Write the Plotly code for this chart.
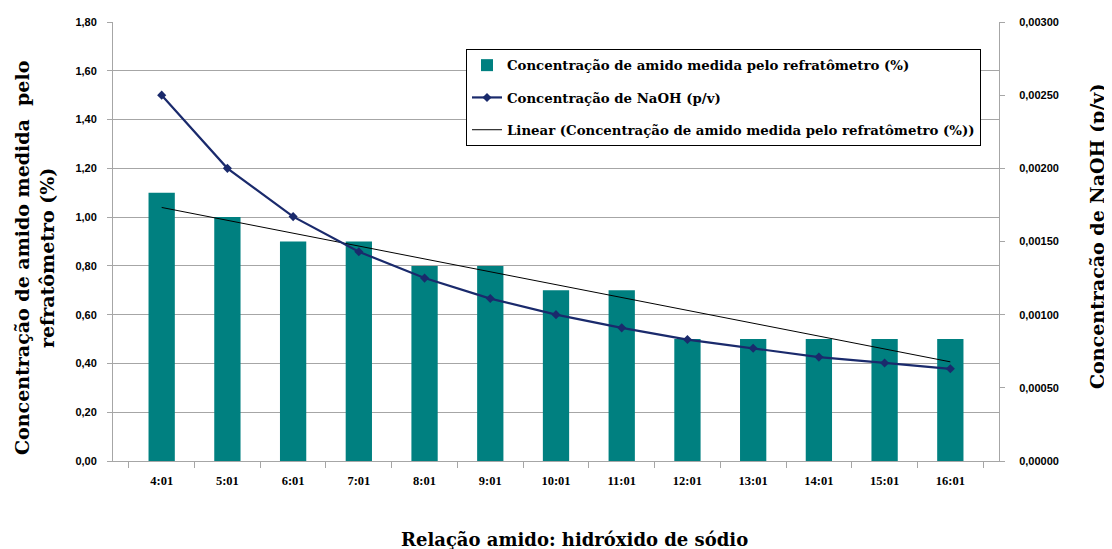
import numpy as np
import plotly.graph_objects as go

categories = ["4:01", "5:01", "6:01", "7:01", "8:01", "9:01", "10:01",
              "11:01", "12:01", "13:01", "14:01", "15:01", "16:01"]
amido = [1.10, 1.00, 0.90, 0.90, 0.80, 0.80, 0.70, 0.70, 0.50, 0.50, 0.50, 0.50, 0.50]
naoh = [0.00250, 0.00200, 0.00167, 0.00143, 0.00125, 0.00111, 0.00100,
        0.00091, 0.00083, 0.00077, 0.00071, 0.00067, 0.00063]

# Excel-style linear trendline of the bar series
xi = np.arange(1, len(amido) + 1)
slope, intercept = np.polyfit(xi, amido, 1)
trend = list(slope * xi + intercept)

SERIF = "Liberation Serif"
SANS = "Liberation Sans"
TITLE = "DejaVu Serif"
axis_gray = "#a6a6a6"

OFF = 8  # default page body margin
W, H = 1112 - OFF, 549 - OFF
L, T = 113 - OFF, 22 - OFF
R = 1112 - 999
B = 549 - 461
PW, PH = W - L - R, H - T - B

def px_x(x):
    return (x - OFF - L) / PW

def px_y(y):
    return (H - B - (y - OFF)) / PH

fig = go.Figure()
fig.add_trace(go.Bar(
    x=categories, y=amido, name="<b>Concentração de amido medida pelo refratômetro (%)</b>",
    legendgroup="a", marker=dict(color="#008080", line=dict(width=0)), yaxis="y"))
fig.add_trace(go.Scatter(
    x=categories, y=naoh, name="<b>Concentração de NaOH (p/v)</b>", mode="lines+markers",
    legendgroup="b", line=dict(color="#1a2a6c", width=2.2),
    marker=dict(symbol="diamond", size=7, color="#1a2a6c"), yaxis="y2"))
fig.add_trace(go.Scatter(
    x=categories, y=trend, name="<b>Linear (Concentração de amido medida pelo refratômetro (%))</b>",
    legendgroup="c", mode="lines", line=dict(color="#000000", width=1), yaxis="y"))

xtickfont = dict(family=SERIF, size=12.5, color="#000000", weight="bold")
ytickfont = dict(family=SANS, size=11, color="#000000", weight="bold")

fig.update_layout(
    width=W, height=H,
    margin=dict(l=L, r=R, t=T, b=B),
    paper_bgcolor="white", plot_bgcolor="white",
    separators=",.",
    bargap=0.6,
    showlegend=True,
    font=dict(family=SERIF, color="#000000"),
    legend=dict(
        x=px_x(466), y=px_y(49), xanchor="left", yanchor="top",
        bgcolor="white", bordercolor="#000000", borderwidth=1,
        font=dict(family=TITLE, size=13.3, color="#000000"),
        traceorder="grouped", tracegroupgap=12,
        itemwidth=30,
    ),
    xaxis=dict(
        type="category", tickson="boundaries", ticks="outside", ticklen=6,
        tickcolor=axis_gray, showline=True, linecolor=axis_gray, linewidth=1,
        showgrid=False, automargin=False, ticklabelstandoff=8,
        tickfont=xtickfont,
    ),
    yaxis=dict(
        range=[0, 1.8], dtick=0.2, tickformat=".2f",
        ticks="outside", ticklen=5, tickcolor=axis_gray,
        showline=True, linecolor=axis_gray, linewidth=1,
        showgrid=True, gridcolor="#a6a6a6", gridwidth=1,
        zeroline=False, automargin=False, ticklabelstandoff=8,
        tickfont=ytickfont,
    ),
    yaxis2=dict(
        range=[0, 0.003], dtick=0.0005, tickformat=".5f",
        overlaying="y", side="right",
        ticks="outside", ticklen=5, tickcolor=axis_gray,
        showline=True, linecolor=axis_gray, linewidth=1,
        showgrid=False, zeroline=False, automargin=False, ticklabelstandoff=12,
        tickfont=ytickfont,
    ),
    annotations=[
        dict(text="<b>Relação amido: hidróxido de sódio</b>", xref="paper", yref="paper",
             x=px_x(574), y=px_y(539), xanchor="center", yanchor="middle", showarrow=False,
             font=dict(family=TITLE, size=18, color="#000000")),
        dict(text="<b>Concentração de amido medida  pelo<br>refratômetro (%)</b>",
             xref="paper", yref="paper", x=px_x(34), y=px_y(258),
             xanchor="center", yanchor="middle", showarrow=False, textangle=-90,
             font=dict(family=TITLE, size=19, color="#000000")),
        dict(text="<b>Concentração de NaOH (p/v)</b>",
             xref="paper", yref="paper", x=px_x(1097), y=px_y(237),
             xanchor="center", yanchor="middle", showarrow=False, textangle=-90,
             font=dict(family=TITLE, size=19, color="#000000")),
    ],
)

fig.write_html("out.html")
